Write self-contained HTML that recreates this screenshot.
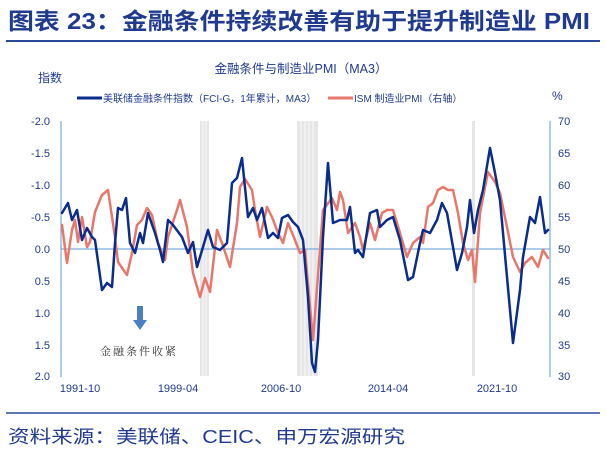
<!DOCTYPE html><html><head><meta charset="utf-8"><style>body{margin:0;background:#fff}svg text{font-family:"Liberation Sans","Noto Sans CJK SC",sans-serif}</style></head><body>
<svg width="606" height="454" xmlns="http://www.w3.org/2000/svg">
<text x="8" y="29" font-size="23" font-weight="bold" fill="#1f3a8f" textLength="582" lengthAdjust="spacingAndGlyphs">图表 23：金融条件持续改善有助于提升制造业 PMI</text>
<line x1="6" y1="41" x2="600" y2="41" stroke="#2a4a9a" stroke-width="2"/>
<text x="301" y="73" font-size="12.5" fill="#1f3a8f" text-anchor="middle">金融条件与制造业PMI（MA3）</text>
<text x="38" y="82" font-size="12" fill="#1f3a8f">指数</text>
<text x="552" y="100" font-size="12" fill="#1f3a8f">%</text>
<line x1="77" y1="98" x2="102" y2="98" stroke="#0a2d8c" stroke-width="3"/>
<text x="103" y="102" font-size="10" fill="#1f3a8f">美联储金融条件指数（FCI-G，1年累计，MA3）</text>
<line x1="328" y1="98" x2="353" y2="98" stroke="#e8776b" stroke-width="3"/>
<text x="354" y="102" font-size="10" fill="#1f3a8f">ISM 制造业PMI（右轴）</text>
<g fill="#e6e6e6"><rect x="200" y="121" width="9" height="255"/><rect x="297" y="121" width="21" height="255"/><rect x="472" y="121" width="3" height="255"/></g>
<g stroke="#fff" stroke-width="0.8"><line x1="203" y1="121" x2="203" y2="376"/><line x1="206" y1="121" x2="206" y2="376"/><line x1="301" y1="121" x2="301" y2="376"/><line x1="305" y1="121" x2="305" y2="376"/><line x1="309" y1="121" x2="309" y2="376"/><line x1="313" y1="121" x2="313" y2="376"/></g>
<g stroke="#5b9bd5" stroke-width="1"><line x1="61" y1="121" x2="61" y2="377"/><line x1="550" y1="121" x2="550" y2="377"/><line x1="61" y1="249" x2="550" y2="249"/></g>
<g font-size="11" fill="#1f3a8f" text-anchor="end">
<text x="50" y="125">-2.0</text><text x="50" y="157">-1.5</text><text x="50" y="189">-1.0</text><text x="50" y="221">-0.5</text><text x="50" y="253">0.0</text><text x="50" y="285">0.5</text><text x="50" y="317">1.0</text><text x="50" y="349">1.5</text><text x="50" y="380">2.0</text></g>
<g font-size="11" fill="#1f3a8f"><text x="558" y="125">70</text><text x="558" y="157">65</text><text x="558" y="189">60</text><text x="558" y="221">55</text><text x="558" y="253">50</text><text x="558" y="285">45</text><text x="558" y="317">40</text><text x="558" y="349">35</text><text x="558" y="380">30</text></g>
<g font-size="11" fill="#1f3a8f" text-anchor="middle"><text x="80" y="392">1991-10</text><text x="178" y="392">1999-04</text><text x="281" y="392">2006-10</text><text x="388" y="392">2014-04</text><text x="497" y="392">2021-10</text></g>
<polyline fill="none" stroke="#e8776b" stroke-width="2.5" stroke-linejoin="round" stroke-linecap="round" points="62,225 67,263 72,230 75,220 78,242 82,217 87,247 90,242 95,212 102,195 108,190 115,237 118,262 127,275 132,253 137,225 142,220 147,208 152,215 158,243 165,260 168,237 177,210 180,200 187,227 193,273 200,297 205,278 210,292 217,230 222,243 230,267 237,223 240,187 245,179 252,190 255,210 260,237 267,207 272,217 278,233 283,243 288,223 293,235 300,253 305,250 313,340 323,210 332,198 337,210 340,192 343,200 348,233 355,223 360,237 363,250 370,223 375,240 382,213 387,210 393,210 400,233 407,257 413,243 420,237 423,243 428,207 433,203 438,190 443,187 448,190 453,190 458,213 463,243 468,260 472,250 475,282 480,213 488,172 495,182 500,193 507,227 513,257 520,272 525,263 532,257 538,267 543,250 548,258"/>
<polyline fill="none" stroke="#0a2d8c" stroke-width="2.5" stroke-linejoin="round" stroke-linecap="round" points="62,213 68,203 72,220 77,210 82,240 87,228 92,237 95,240 102,290 107,283 112,287 115,243 118,208 122,210 126,198 130,243 135,253 140,233 143,243 148,213 155,233 160,250 163,262 168,220 173,225 182,237 188,253 193,242 197,267 203,247 208,230 213,247 220,250 227,243 232,183 237,178 242,158 248,217 253,208 257,220 262,208 268,238 273,233 278,238 282,218 288,215 293,222 298,227 303,240 308,297 312,363 315,372 318,340 323,237 328,163 333,223 340,220 347,220 350,207 355,253 358,250 363,257 370,213 377,210 380,227 387,220 393,217 400,240 408,280 413,277 420,243 423,230 430,233 437,220 442,203 447,213 453,247 457,270 462,253 467,227 470,200 474,233 478,210 483,190 490,148 495,173 500,200 507,277 513,343 520,290 523,257 530,217 535,223 540,197 545,233 548,230"/>
<rect x="137" y="306" width="6" height="15" fill="#4a7fc1"/><polygon points="133,320 147,320 140,330" fill="#4a7fc1"/>
<text x="100" y="355" font-size="11" fill="#333" letter-spacing="2" style="font-family:'Noto Serif CJK SC',serif">金融条件收紧</text>
<line x1="6" y1="413" x2="600" y2="413" stroke="#2a4a9a" stroke-width="1.5"/>
<text x="8" y="443" font-size="18" fill="#1f3a8f" textLength="397" lengthAdjust="spacingAndGlyphs">资料来源：美联储、CEIC、申万宏源研究</text>
</svg></body></html>
